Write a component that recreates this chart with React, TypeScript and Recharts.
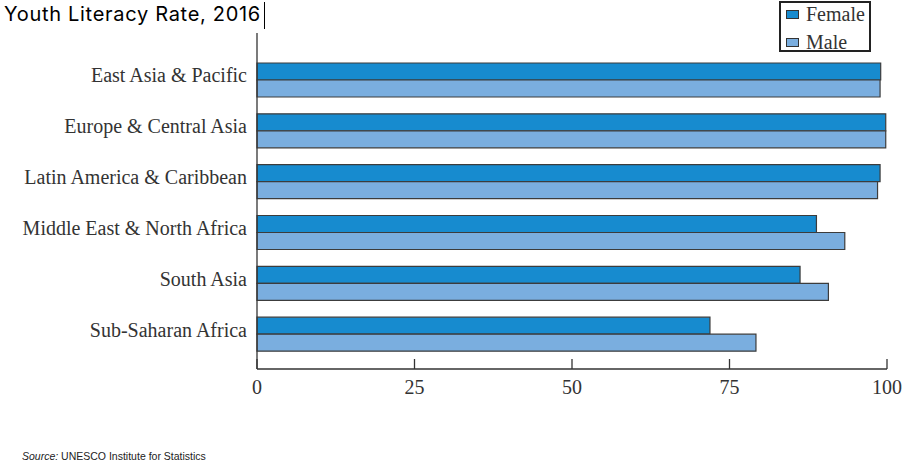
import React from 'react'
import { BarChart, Bar, XAxis, YAxis } from 'recharts'

const regions = [
  'East Asia & Pacific',
  'Europe & Central Asia',
  'Latin America & Caribbean',
  'Middle East & North Africa',
  'South Asia',
  'Sub-Saharan Africa',
]
const female = [99.0, 99.8, 98.9, 88.8, 86.2, 71.9]
const male = [98.9, 99.8, 98.5, 93.3, 90.7, 79.2]
const xTicks = [0, 25, 50, 75, 100]

const FEMALE_COLOR = '#178bcf'
const MALE_COLOR = '#7aaedf'
const INK = '#333'
const SERIF = '"Liberation Serif", "DejaVu Serif", serif'

const chartData = regions.map((name, i) => ({ name, female: female[i], male: male[i] }))

function XTick(props: any) {
  const { x, y, payload } = props
  return (
    <g>
      <line x1={x} y1={y - 10} x2={x} y2={y} stroke={INK} strokeWidth={1.3} />
      <text x={x} y={y + 25} textAnchor="middle" fontFamily={SERIF} fontSize={20} fill={INK}>
        {payload.value}
      </text>
    </g>
  )
}

function YTick(props: any) {
  const { y, payload } = props
  return (
    <text x={247} y={y + 2} textAnchor="end" fontFamily={SERIF} fontSize={20} fill={INK}>
      {payload.value}
    </text>
  )
}

// legend box drawn by hand so it sits exactly in the top-right corner
function LegendBox() {
  const items = [
    { label: 'Female', color: FEMALE_COLOR, center: 11.5 },
    { label: 'Male', color: MALE_COLOR, center: 39.5 },
  ]
  return (
    <div
      style={{
        position: 'absolute',
        left: 779,
        top: 1,
        width: 88,
        height: 47,
        border: '2px solid #222',
        background: '#fff',
      }}
    >
      {items.map((it) => (
        <React.Fragment key={it.label}>
          <div
            style={{
              position: 'absolute',
              left: 5,
              top: it.center - 4.5,
              width: 11,
              height: 7,
              background: it.color,
              border: '1px solid #333',
            }}
          />
          <div
            style={{
              position: 'absolute',
              left: 25,
              top: it.center - 13.2,
              fontFamily: SERIF,
              fontSize: 20,
              lineHeight: '26px',
              color: INK,
              whiteSpace: 'nowrap',
            }}
          >
            {it.label}
          </div>
        </React.Fragment>
      ))}
    </div>
  )
}

export default function App() {
  return (
    <div style={{ position: 'absolute', left: 0, top: 0, width: 912, height: 462, background: '#fff' }}>
      <div
        style={{
          position: 'absolute',
          left: 4,
          top: 0,
          fontFamily: 'Inter, "Open Sans", sans-serif',
          fontSize: 20,
          letterSpacing: 0.7,
          lineHeight: '28px',
          color: '#000',
          whiteSpace: 'nowrap',
        }}
      >
        Youth Literacy Rate, 2016
      </div>
      <div style={{ position: 'absolute', left: 264, top: 2, width: 1, height: 27, background: '#000' }} />
      <BarChart
        width={912}
        height={462}
        data={chartData}
        layout="vertical"
        barSize={17}
        barGap={0}
        margin={{ top: 33, right: 25, left: 0, bottom: 63 }}
      >
        <XAxis
          type="number"
          domain={[0, 100]}
          ticks={xTicks}
          height={30}
          tickSize={0}
          tickMargin={0}
          tick={<XTick />}
          axisLine={{ stroke: INK, strokeWidth: 1.3 }}
          tickLine={false}
        />
        <YAxis
          type="category"
          dataKey="name"
          width={257}
          padding={{ top: 22, bottom: 9 }}
          tick={<YTick />}
          tickLine={false}
          axisLine={{ stroke: INK, strokeWidth: 1.3 }}
        />
        <Bar dataKey="female" name="Female" fill={FEMALE_COLOR} stroke="#3c3c3c" strokeWidth={1.2} isAnimationActive={false} />
        <Bar dataKey="male" name="Male" fill={MALE_COLOR} stroke="#3c3c3c" strokeWidth={1.2} isAnimationActive={false} />
      </BarChart>
      <LegendBox />
      <div
        style={{
          position: 'absolute',
          left: 22,
          top: 450,
          fontFamily: '"Liberation Sans", Arial, sans-serif',
          fontSize: 10.5,
          color: '#222',
          whiteSpace: 'nowrap',
        }}
      >
        <i>Source:</i> UNESCO Institute for Statistics
      </div>
    </div>
  )
}
